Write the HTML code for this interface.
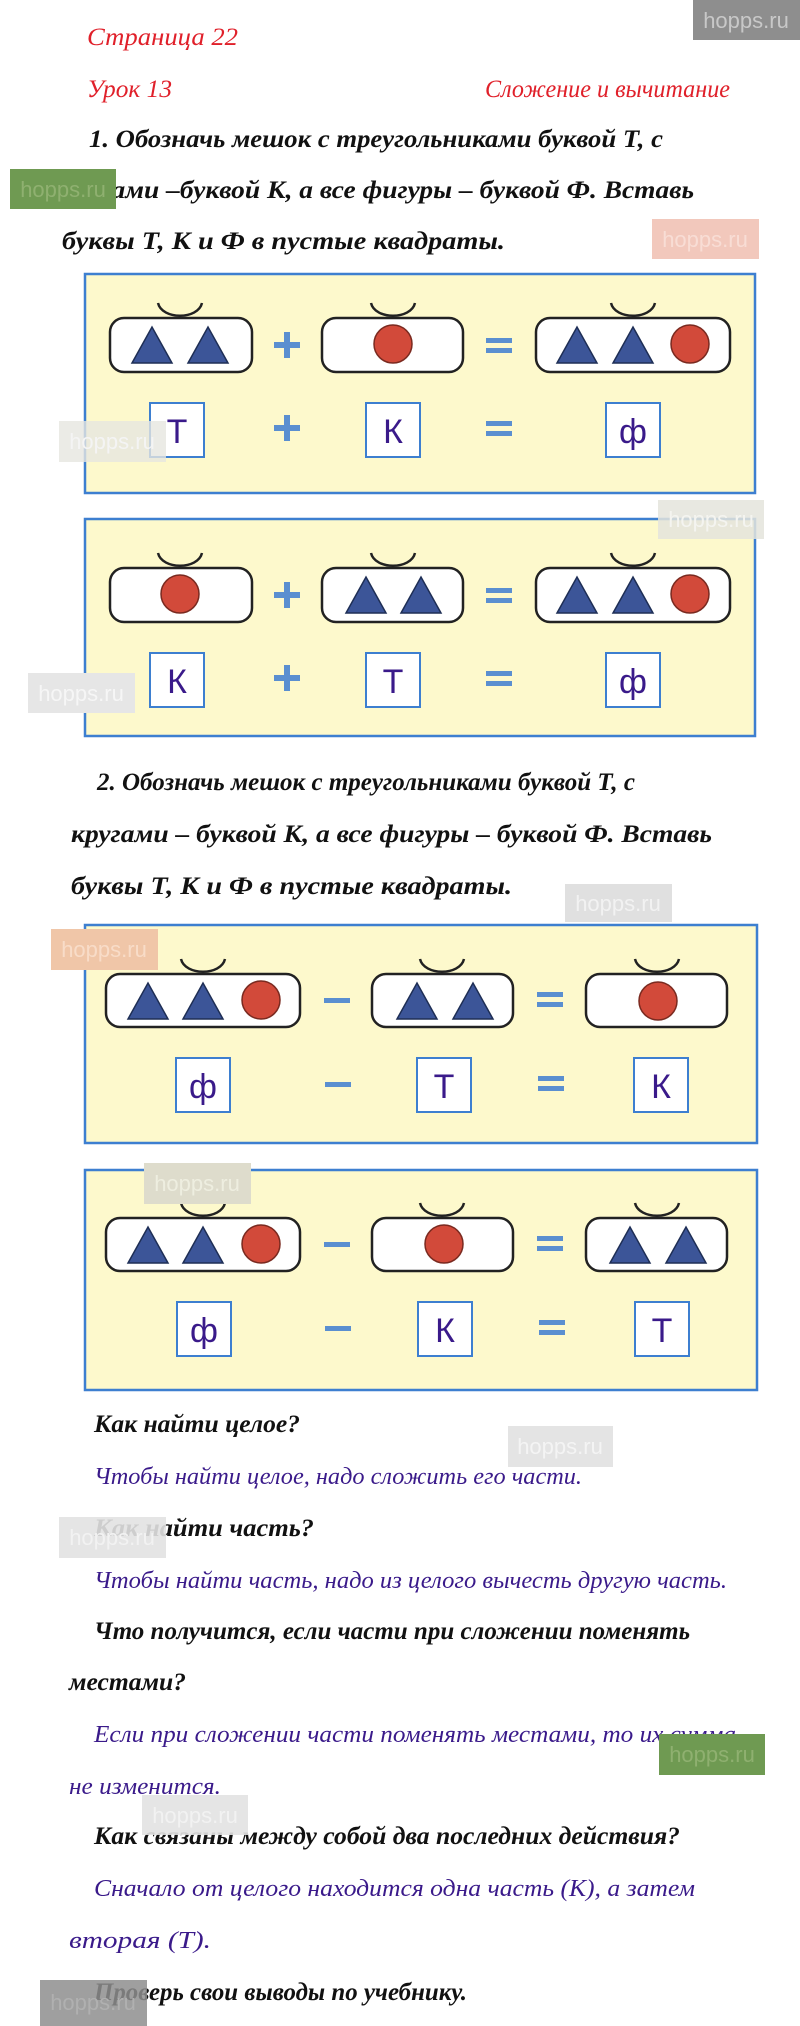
<!DOCTYPE html>
<html><head><meta charset="utf-8"><style>
html,body{margin:0;padding:0;background:#fff;}
svg{display:block;}
.h{font-family:"Liberation Serif","DejaVu Serif",serif;font-style:italic;}
.r{fill:#e0202a;font-size:25px;}
.k{fill:#111;font-size:25px;font-weight:bold;}
.p{fill:#3a1a8a;font-size:24px;}
.L{font-family:"Liberation Sans",sans-serif;fill:#3a1a8a;font-size:34px;}
.op{fill:#5a8fd0;}
</style></head><body>
<svg width="800" height="2026" viewBox="0 0 800 2026" xmlns="http://www.w3.org/2000/svg">
<defs>
<g id="bag"><path d="M-22,-15 C-18,2 18,2 22,-15" fill="none" stroke="#222" stroke-width="2.5"/></g>
<polygon id="tri" points="-20,0 20,0 0,-36" fill="#3c5598" stroke="#1e2e55" stroke-width="1.5"/>
<circle id="cir" r="19" fill="#d24a3a" stroke="#7a2a20" stroke-width="1.5"/>
<g id="plus"><rect x="-13" y="-3" width="26" height="6" class="op"/><rect x="-3" y="-13" width="6" height="26" class="op"/></g>
<g id="eq"><rect x="-13" y="-7" width="26" height="5" class="op"/><rect x="-13" y="3" width="26" height="5" class="op"/></g>
<g id="minus"><rect x="-13" y="-3" width="26" height="5" class="op"/></g>
</defs>

<text class="h r" x="87" y="45" textLength="151" lengthAdjust="spacingAndGlyphs">Страница 22</text>
<text class="h r" x="87" y="97" textLength="85" lengthAdjust="spacingAndGlyphs">Урок 13</text>
<text class="h r" x="485" y="97" textLength="245" lengthAdjust="spacingAndGlyphs">Сложение и вычитание</text>

<text class="h k" x="89" y="147" textLength="574" lengthAdjust="spacingAndGlyphs">1. Обозначь мешок с треугольниками буквой Т, с</text>
<text class="h k" x="62" y="198" textLength="632" lengthAdjust="spacingAndGlyphs">кругами –буквой К, а все фигуры – буквой Ф. Вставь</text>
<text class="h k" x="62" y="249" textLength="443" lengthAdjust="spacingAndGlyphs">буквы Т, К и Ф в пустые квадраты.</text>

<!-- Box 1 -->
<rect x="85" y="274" width="670" height="219" fill="#fdf9cc" stroke="#3d7fd0" stroke-width="2.5"/>
<g transform="translate(0,318)">
<rect x="110" y="0" width="142" height="54" rx="14" fill="#fff" stroke="#222" stroke-width="2.5"/>
<use href="#bag" x="180" y="0"/><use href="#tri" x="152" y="45"/><use href="#tri" x="208" y="45"/>
<rect x="322" y="0" width="141" height="54" rx="14" fill="#fff" stroke="#222" stroke-width="2.5"/>
<use href="#bag" x="393" y="0"/><use href="#cir" x="393" y="26"/>
<rect x="536" y="0" width="194" height="54" rx="14" fill="#fff" stroke="#222" stroke-width="2.5"/>
<use href="#bag" x="633" y="0"/><use href="#tri" x="577" y="45"/><use href="#tri" x="633" y="45"/><use href="#cir" x="690" y="26"/>
<use href="#plus" x="287" y="27"/><use href="#eq" x="499" y="27"/>
</g>
<g transform="translate(0,403)">
<rect x="150" y="0" width="54" height="54" fill="#fff" stroke="#3d7fd0" stroke-width="2"/><text class="L" x="177" y="40" text-anchor="middle">Т</text>
<rect x="366" y="0" width="54" height="54" fill="#fff" stroke="#3d7fd0" stroke-width="2"/><text class="L" x="393" y="40" text-anchor="middle">К</text>
<rect x="606" y="0" width="54" height="54" fill="#fff" stroke="#3d7fd0" stroke-width="2"/><text class="L" x="633" y="40" text-anchor="middle">ф</text>
<use href="#plus" x="287" y="25"/><use href="#eq" x="499" y="25"/>
</g>

<!-- Box 2 -->
<rect x="85" y="519" width="670" height="217" fill="#fdf9cc" stroke="#3d7fd0" stroke-width="2.5"/>
<g transform="translate(0,568)">
<rect x="110" y="0" width="142" height="54" rx="14" fill="#fff" stroke="#222" stroke-width="2.5"/>
<use href="#bag" x="180" y="0"/><use href="#cir" x="180" y="26"/>
<rect x="322" y="0" width="141" height="54" rx="14" fill="#fff" stroke="#222" stroke-width="2.5"/>
<use href="#bag" x="393" y="0"/><use href="#tri" x="366" y="45"/><use href="#tri" x="421" y="45"/>
<rect x="536" y="0" width="194" height="54" rx="14" fill="#fff" stroke="#222" stroke-width="2.5"/>
<use href="#bag" x="633" y="0"/><use href="#tri" x="577" y="45"/><use href="#tri" x="633" y="45"/><use href="#cir" x="690" y="26"/>
<use href="#plus" x="287" y="27"/><use href="#eq" x="499" y="27"/>
</g>
<g transform="translate(0,653)">
<rect x="150" y="0" width="54" height="54" fill="#fff" stroke="#3d7fd0" stroke-width="2"/><text class="L" x="177" y="40" text-anchor="middle">К</text>
<rect x="366" y="0" width="54" height="54" fill="#fff" stroke="#3d7fd0" stroke-width="2"/><text class="L" x="393" y="40" text-anchor="middle">Т</text>
<rect x="606" y="0" width="54" height="54" fill="#fff" stroke="#3d7fd0" stroke-width="2"/><text class="L" x="633" y="40" text-anchor="middle">ф</text>
<use href="#plus" x="287" y="25"/><use href="#eq" x="499" y="25"/>
</g>

<text class="h k" x="97" y="790" textLength="538" lengthAdjust="spacingAndGlyphs">2. Обозначь мешок с треугольниками буквой Т, с</text>
<text class="h k" x="71" y="842" textLength="641" lengthAdjust="spacingAndGlyphs">кругами – буквой К, а все фигуры – буквой Ф. Вставь</text>
<text class="h k" x="71" y="894" textLength="441" lengthAdjust="spacingAndGlyphs">буквы Т, К и Ф в пустые квадраты.</text>

<!-- Box 3 -->
<rect x="85" y="925" width="672" height="218" fill="#fdf9cc" stroke="#3d7fd0" stroke-width="2.5"/>
<g transform="translate(0,974)">
<rect x="106" y="0" width="194" height="53" rx="14" fill="#fff" stroke="#222" stroke-width="2.5"/>
<use href="#bag" x="203" y="0"/><use href="#tri" x="148" y="45"/><use href="#tri" x="203" y="45"/><use href="#cir" x="261" y="26"/>
<rect x="372" y="0" width="141" height="53" rx="14" fill="#fff" stroke="#222" stroke-width="2.5"/>
<use href="#bag" x="442" y="0"/><use href="#tri" x="417" y="45"/><use href="#tri" x="473" y="45"/>
<rect x="586" y="0" width="141" height="53" rx="14" fill="#fff" stroke="#222" stroke-width="2.5"/>
<use href="#bag" x="657" y="0"/><use href="#cir" x="658" y="27"/>
<use href="#minus" x="337" y="27"/><use href="#eq" x="550" y="25"/>
</g>
<g transform="translate(0,1058)">
<rect x="176" y="0" width="54" height="54" fill="#fff" stroke="#3d7fd0" stroke-width="2"/><text class="L" x="203" y="40" text-anchor="middle">ф</text>
<rect x="417" y="0" width="54" height="54" fill="#fff" stroke="#3d7fd0" stroke-width="2"/><text class="L" x="444" y="40" text-anchor="middle">Т</text>
<rect x="634" y="0" width="54" height="54" fill="#fff" stroke="#3d7fd0" stroke-width="2"/><text class="L" x="661" y="40" text-anchor="middle">К</text>
<use href="#minus" x="338" y="27"/><use href="#eq" x="551" y="25"/>
</g>

<!-- Box 4 -->
<rect x="85" y="1170" width="672" height="220" fill="#fdf9cc" stroke="#3d7fd0" stroke-width="2.5"/>
<g transform="translate(0,1218)">
<rect x="106" y="0" width="194" height="53" rx="14" fill="#fff" stroke="#222" stroke-width="2.5"/>
<use href="#bag" x="203" y="0"/><use href="#tri" x="148" y="45"/><use href="#tri" x="203" y="45"/><use href="#cir" x="261" y="26"/>
<rect x="372" y="0" width="141" height="53" rx="14" fill="#fff" stroke="#222" stroke-width="2.5"/>
<use href="#bag" x="442" y="0"/><use href="#cir" x="444" y="26"/>
<rect x="586" y="0" width="141" height="53" rx="14" fill="#fff" stroke="#222" stroke-width="2.5"/>
<use href="#bag" x="657" y="0"/><use href="#tri" x="630" y="45"/><use href="#tri" x="686" y="45"/>
<use href="#minus" x="337" y="27"/><use href="#eq" x="550" y="25"/>
</g>
<g transform="translate(0,1302)">
<rect x="177" y="0" width="54" height="54" fill="#fff" stroke="#3d7fd0" stroke-width="2"/><text class="L" x="204" y="40" text-anchor="middle">ф</text>
<rect x="418" y="0" width="54" height="54" fill="#fff" stroke="#3d7fd0" stroke-width="2"/><text class="L" x="445" y="40" text-anchor="middle">К</text>
<rect x="635" y="0" width="54" height="54" fill="#fff" stroke="#3d7fd0" stroke-width="2"/><text class="L" x="662" y="40" text-anchor="middle">Т</text>
<use href="#minus" x="338" y="27"/><use href="#eq" x="552" y="25"/>
</g>

<!-- Q&A -->
<text class="h k" x="94" y="1432" textLength="206" lengthAdjust="spacingAndGlyphs">Как найти целое?</text>
<text class="h p" x="94" y="1484" textLength="488" lengthAdjust="spacingAndGlyphs">Чтобы найти целое, надо сложить его части.</text>
<text class="h k" x="94" y="1536" textLength="220" lengthAdjust="spacingAndGlyphs">Как найти часть?</text>
<text class="h p" x="94" y="1588" textLength="633" lengthAdjust="spacingAndGlyphs">Чтобы найти часть, надо из целого вычесть другую часть.</text>
<text class="h k" x="94" y="1639" textLength="596" lengthAdjust="spacingAndGlyphs">Что получится, если части при сложении поменять</text>
<text class="h k" x="69" y="1690" textLength="117" lengthAdjust="spacingAndGlyphs">местами?</text>
<text class="h p" x="94" y="1742" textLength="642" lengthAdjust="spacingAndGlyphs">Если при сложении части поменять местами, то их сумма</text>
<text class="h p" x="69" y="1794" textLength="152" lengthAdjust="spacingAndGlyphs">не изменится.</text>
<text class="h k" x="94" y="1844" textLength="586" lengthAdjust="spacingAndGlyphs">Как связаны между собой два последних действия?</text>
<text class="h p" x="94" y="1896" textLength="601" lengthAdjust="spacingAndGlyphs">Сначало от целого находится одна часть (К), а затем</text>
<text class="h p" x="69" y="1948" textLength="142" lengthAdjust="spacingAndGlyphs">вторая (Т).</text>
<text class="h k" x="94" y="2000" textLength="373" lengthAdjust="spacingAndGlyphs">Проверь свои выводы по учебнику.</text>

<!-- watermarks -->
<g font-family="Liberation Sans Narrow, Liberation Sans, sans-serif" font-size="22" text-anchor="middle">
<rect x="693" y="0" width="107" height="40" fill="#8e8e8e"/><text x="746" y="28" fill="#c8c8c8">hopps.ru</text>
<rect x="10" y="169" width="106" height="40" fill="#6f9a52"/><text x="63" y="197" fill="#8fb070">hopps.ru</text>
<rect x="652" y="219" width="107" height="40" fill="#f2c8bc"/><text x="705" y="247" fill="#f8ddd5">hopps.ru</text>
<rect x="59" y="421" width="107" height="41" fill="#e6e6e0" opacity="0.8"/><text x="112" y="449" fill="#f4f4f4">hopps.ru</text>
<rect x="658" y="500" width="106" height="39" fill="#e4e4dc" opacity="0.85"/><text x="711" y="527" fill="#f4f4f0">hopps.ru</text>
<rect x="28" y="673" width="107" height="40" fill="#e6e6e6"/><text x="81" y="701" fill="#f6f6f6">hopps.ru</text>
<rect x="565" y="884" width="107" height="38" fill="#e0e0e0"/><text x="618" y="911" fill="#f2f2f2">hopps.ru</text>
<rect x="51" y="929" width="107" height="41" fill="#f0c6a8"/><text x="104" y="957" fill="#f8dcc8">hopps.ru</text>
<rect x="144" y="1163" width="107" height="41" fill="#dedccc"/><text x="197" y="1191" fill="#eeeee0">hopps.ru</text>
<rect x="508" y="1426" width="105" height="41" fill="#e4e4e4"/><text x="560" y="1454" fill="#f4f4f4">hopps.ru</text>
<rect x="59" y="1517" width="107" height="41" fill="#e2e2e2" opacity="0.9"/><text x="112" y="1545" fill="#f2f2f2">hopps.ru</text>
<rect x="659" y="1734" width="106" height="41" fill="#6f9a52"/><text x="712" y="1762" fill="#8fb070">hopps.ru</text>
<rect x="142" y="1795" width="106" height="40" fill="#e2e2e2" opacity="0.9"/><text x="195" y="1823" fill="#f2f2f2">hopps.ru</text>
<rect x="40" y="1980" width="107" height="46" fill="#8e8e8e" opacity="0.85"/><text x="93" y="2010" fill="#b0b0b0">hopps.ru</text>
</g>
</svg>
</body></html>
